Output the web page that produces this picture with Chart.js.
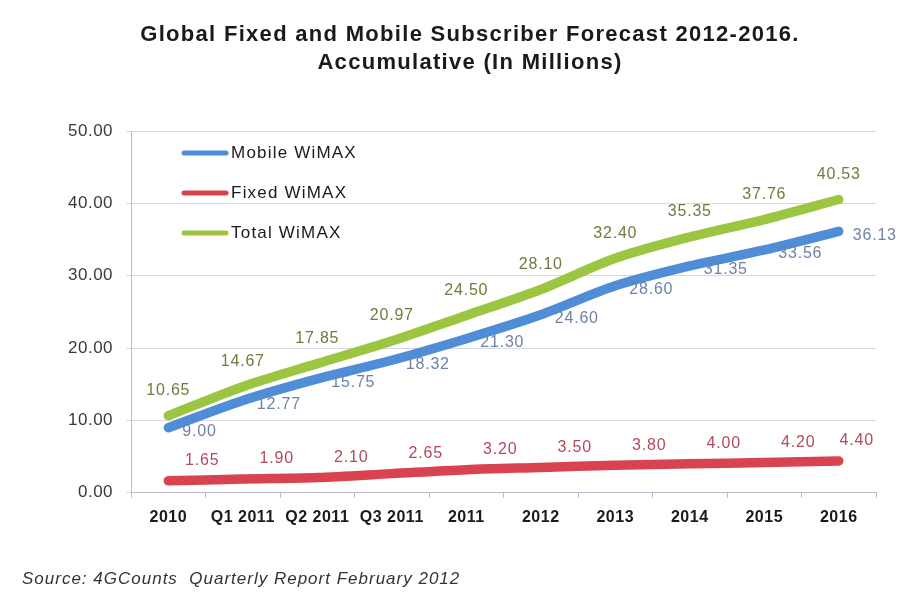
<!DOCTYPE html>
<html>
<head>
<meta charset="utf-8">
<script src="https://cdn.jsdelivr.net/npm/chart.js@4"></script>
<style>
  html, body { margin: 0; padding: 0; background: #fff; }
  #wrap { width: 901px; height: 593px; position: relative; }
</style>
</head>
<body>
<div id="wrap"><canvas id="subChart" width="901" height="593"></canvas></div>
<script>
const categories = ['2010', 'Q1 2011', 'Q2 2011', 'Q3 2011', '2011', '2012', '2013', '2014', '2015', '2016'];
const mobileWimax = [9.00, 12.77, 15.75, 18.32, 21.30, 24.60, 28.60, 31.35, 33.56, 36.13];
const fixedWimax = [1.65, 1.90, 2.10, 2.65, 3.20, 3.50, 3.80, 4.00, 4.20, 4.40];
const totalWimax = [10.65, 14.67, 17.85, 20.97, 24.50, 28.10, 32.40, 35.35, 37.76, 40.53];
const yTicks = [0, 10, 20, 30, 40, 50];

const FONT = 'Arial, "Liberation Sans", sans-serif';

// per-series label placement: dx, dy, alignment
const labelStyle = [
  { color: '#6f82a6', dx: 14, dy: 4, align: 'left' },
  { color: '#b5495b', dx: 34, dy: -20, align: 'center' },
  { color: '#6f7c3c', dx: 0, dy: -25, align: 'center' }
];

// slightly wider letter spacing for the axis labels
const spacing = {
  id: 'spacing',
  beforeUpdate(chart) { chart.ctx.letterSpacing = '0.5px'; },
  beforeDraw(chart) { chart.ctx.letterSpacing = '0.5px'; }
};

// Title, source, legend and value labels
const decor = {
  id: 'decor',
  afterDatasetsDraw(chart) {
    const { ctx, chartArea } = chart;
    ctx.save();
    ctx.textBaseline = 'middle';
    ctx.letterSpacing = '0.8px';
    ctx.font = '16px ' + FONT;
    chart.data.datasets.forEach((ds, i) => {
      const meta = chart.getDatasetMeta(i);
      const st = labelStyle[i];
      ctx.fillStyle = st.color;
      meta.data.forEach((pt, j) => {
        let dx = st.dx;
        if (i === 1 && j === ds.data.length - 1) dx = 18;
        ctx.textAlign = st.align;
        ctx.fillText(ds.data[j].toFixed(2), pt.x + dx, pt.y + st.dy);
      });
    });

    // legend inside plot
    ctx.font = '17px ' + FONT;
    ctx.letterSpacing = '1.2px';
    ctx.textAlign = 'left';
    chart.data.datasets.forEach((ds, i) => {
      const y = chartArea.top + 22 + i * 40;
      const x0 = chartArea.left + 53;
      ctx.strokeStyle = ds.borderColor;
      ctx.lineWidth = 5;
      ctx.lineCap = 'round';
      ctx.beginPath();
      ctx.moveTo(x0, y);
      ctx.lineTo(x0 + 42, y);
      ctx.stroke();
      ctx.fillStyle = '#1a1a1a';
      ctx.fillText(ds.label, x0 + 47, y);
    });

    // title
    ctx.fillStyle = '#1a1a1a';
    ctx.textAlign = 'center';
    ctx.letterSpacing = '1.3px';
    ctx.font = 'bold 22px ' + FONT;
    ctx.fillText('Global Fixed and Mobile Subscriber Forecast 2012-2016.', 470, 35);
    ctx.fillText('Accumulative (In Millions)', 470, 63);

    // source
    ctx.textAlign = 'left';
    ctx.letterSpacing = '1px';
    ctx.font = 'italic 17px ' + FONT;
    ctx.fillStyle = '#333';
    ctx.fillText('Source: 4GCounts  Quarterly Report February 2012', 22, 579);
    ctx.restore();
  }
};

const mkSet = (label, data, color) => ({
  label, data,
  borderColor: color,
  backgroundColor: color,
  borderWidth: 9.5,
  borderCapStyle: 'round',
  borderJoinStyle: 'round',
  pointRadius: 0,
  tension: 0.3,
  fill: false
});

new Chart(document.getElementById('subChart').getContext('2d'), {
  type: 'line',
  data: {
    labels: categories,
    datasets: [
      mkSet('Mobile WiMAX', mobileWimax, '#4f8ed6'),
      mkSet('Fixed WiMAX', fixedWimax, '#d8434f'),
      mkSet('Total WiMAX', totalWimax, '#9cc542')
    ]
  },
  options: {
    responsive: false,
    animation: false,
    layout: { padding: { top: 131, left: 55, right: 25, bottom: 56 } },
    plugins: { legend: { display: false }, tooltip: { enabled: false } },
    scales: {
      x: {
        offset: true,
        grid: { drawOnChartArea: false, offset: true, tickLength: 5, color: '#c0b8c8' },
        border: { color: '#c0b8c8' },
        ticks: { color: '#1a1a1a', font: { family: FONT, size: 16, weight: 'bold' }, maxRotation: 0, padding: 10 }
      },
      y: {
        min: 0, max: 50,
        afterBuildTicks: axis => { axis.ticks = yTicks.map(v => ({ value: v })); },
        grid: { color: '#d8d8e8', tickLength: 5 },
        border: { color: '#c0b8c8' },
        ticks: {
          color: '#3a3a3a',
          font: { family: FONT, size: 17 },
          padding: 13,
          callback: v => v.toFixed(2)
        }
      }
    }
  },
  plugins: [spacing, decor]
});
</script>
</body>
</html>
